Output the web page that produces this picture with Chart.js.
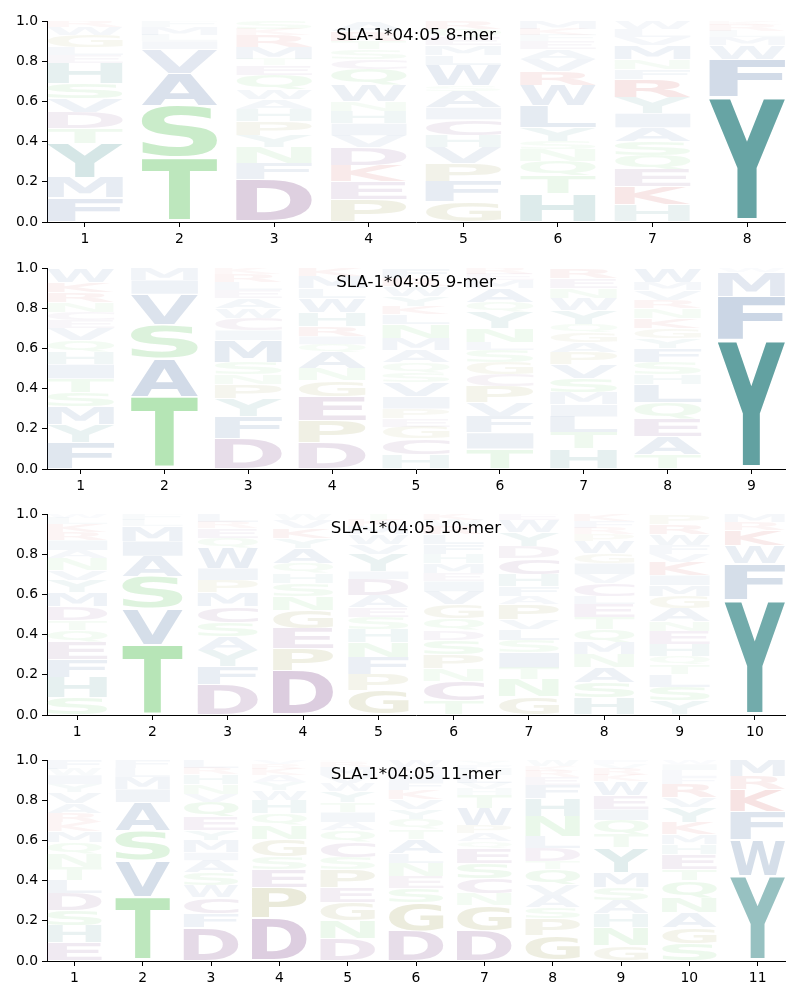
<!DOCTYPE html>
<html lang="en">
<head>
<meta charset="UTF-8">
<title>SLA-1*04:05 binding motifs</title>
<script src="https://cdn.jsdelivr.net/npm/chart.js"></script>
<style>
    body { margin: 0; background: #fff; }
    #wrap { position: relative; width: 800px; height: 1000px; }
    .panel { position: absolute; left: 0; width: 800px; height: 246px; }
</style>
</head>
<body>
<div id="wrap">
    <div class="panel" style="top:0px"><canvas id="c8" width="800" height="246"></canvas></div>
    <div class="panel" style="top:247px"><canvas id="c9" width="800" height="246"></canvas></div>
    <div class="panel" style="top:493px"><canvas id="c10" width="800" height="246"></canvas></div>
    <div class="panel" style="top:739px"><canvas id="c11" width="800" height="246"></canvas></div>
</div>
<script>
// letter frequencies per position, bottom to top
const titles = ['SLA-1*04:05 8-mer', 'SLA-1*04:05 9-mer', 'SLA-1*04:05 10-mer', 'SLA-1*04:05 11-mer'];
const yTicks = [0, 0.2, 0.4, 0.6, 0.8, 1.0];

const mer8 = [
    [['F',.12],['M',.10],['Y',.17],['T',.075],['D',.08],['V',.07],['S',.075],['H',.10],['E',.04],['L',.04],['G',.06],['W',.04],['R',.03]],
    [['T',.32],['S',.26],['A',.16],['V',.12],['I',.04],['L',.03],['M',.04],['F',.03]],
    [['D',.21],['F',.08],['N',.08],['Y',.06],['P',.07],['H',.06],['A',.05],['W',.05],['Q',.07],['E',.05],['T',.03],['M',.06],['R',.06],['K',.03],['S',.04]],
    [['P',.11],['E',.09],['K',.08],['D',.09],['V',.06],['I',.06],['H',.06],['N',.05],['W',.08],['Q',.08],['C',.05],['S',.05],['T',.04],['R',.05],['A',.05]],
    [['G',.10],['F',.10],['P',.09],['V',.08],['H',.06],['C',.08],['I',.06],['A',.08],['S',.03],['W',.10],['L',.05],['M',.05],['E',.04],['Q',.04],['R',.04]],
    [['H',.14],['T',.09],['Q',.07],['N',.06],['S',.04],['Y',.07],['L',.11],['W',.10],['R',.07],['V',.06],['A',.05],['E',.04],['F',.03],['K',.03],['M',.04]],
    [['H',.085],['K',.09],['E',.085],['Q',.07],['S',.07],['A',.07],['I',.07],['Y',.08],['R',.09],['F',.05],['N',.05],['M',.07],['V',.04],['L',.04],['W',.04]],
    [['Y',.62],['F',.19],['W',.07],['M',.04],['L',.03],['R',.03],['K',.02]]
];

const mer9 = [
    [['F',.13],['Y',.09],['M',.09],['S',.07],['T',.07],['I',.07],['H',.06],['Q',.06],['V',.06],['E',.04],['C',.04],['N',.05],['R',.05],['K',.05],['W',.07]],
    [['T',.36],['A',.19],['S',.17],['V',.15],['I',.07],['M',.06]],
    [['D',.15],['F',.11],['Y',.09],['P',.07],['N',.05],['S',.06],['M',.11],['I',.05],['C',.06],['W',.05],['A',.05],['E',.04],['L',.04],['R',.04],['K',.03]],
    [['D',.13],['P',.11],['E',.12],['G',.08],['N',.06],['A',.08],['Q',.04],['I',.04],['R',.05],['H',.07],['W',.07],['L',.05],['M',.06],['K',.04]],
    [['H',.07],['C',.08],['G',.06],['E',.04],['P',.05],['I',.06],['V',.07],['S',.05],['Q',.05],['A',.06],['M',.06],['N',.07],['L',.05],['K',.04],['Y',.05],['W',.05],['R',.04],['F',.05]],
    [['T',.10],['I',.08],['F',.08],['V',.07],['P',.08],['C',.06],['G',.06],['S',.06],['L',.04],['N',.07],['Y',.08],['Q',.05],['A',.07],['M',.04],['E',.03],['R',.03]],
    [['H',.10],['T',.08],['L',.08],['I',.06],['M',.06],['S',.07],['V',.07],['P',.06],['A',.05],['G',.05],['Q',.04],['Y',.07],['W',.06],['N',.05],['E',.05],['R',.05]],
    [['T',.07],['A',.09],['E',.09],['Q',.08],['L',.09],['H',.05],['S',.06],['F',.07],['Y',.05],['G',.05],['K',.05],['N',.05],['R',.04],['V',.05],['M',.04],['W',.07]],
    [['Y',.64],['F',.22],['M',.12],['W',.02]]
];

const mer10 = [
    [['S',.085],['H',.10],['F',.09],['E',.085],['Q',.06],['T',.05],['D',.07],['M',.07],['Y',.06],['V',.05],['N',.06],['A',.04],['I',.05],['R',.04],['K',.04],['L',.03],['W',.02]],
    [['T',.35],['V',.18],['S',.16],['A',.10],['I',.075],['M',.075],['L',.03],['F',.03]],
    [['D',.15],['F',.09],['Y',.08],['A',.07],['S',.07],['C',.08],['M',.07],['P',.06],['I',.06],['W',.10],['Q',.05],['E',.05],['R',.03],['L',.04]],
    [['D',.22],['P',.11],['E',.10],['G',.09],['N',.07],['S',.065],['H',.05],['Q',.05],['A',.075],['Y',.05],['K',.05],['V',.04],['W',.03]],
    [['G',.12],['P',.08],['F',.085],['N',.075],['H',.065],['S',.06],['E',.05],['A',.06],['D',.08],['I',.04],['Y',.085],['V',.05],['W',.05],['M',.04],['K',.03],['T',.03]],
    [['T',.07],['C',.10],['N',.06],['P',.07],['S',.07],['D',.05],['Q',.06],['G',.07],['V',.065],['I',.05],['E',.04],['M',.05],['H',.045],['F',.05],['L',.05],['R',.04],['W',.03],['K',.03]],
    [['G',.09],['N',.085],['T',.06],['I',.075],['S',.06],['L',.055],['V',.05],['P',.075],['A',.04],['F',.05],['H',.06],['C',.08],['D',.06],['Y',.07],['W',.06],['E',.03]],
    [['H',.085],['S',.075],['A',.075],['N',.065],['M',.06],['Q',.065],['T',.06],['E',.065],['L',.04],['C',.065],['V',.045],['I',.055],['G',.05],['W',.06],['P',.035],['R',.03],['F',.035],['K',.035]],
    [['Y',.07],['S',.07],['L',.06],['T',.05],['Q',.04],['H',.06],['E',.065],['N',.05],['A',.065],['G',.06],['M',.055],['I',.05],['K',.065],['V',.04],['F',.045],['W',.055],['R',.05],['P',.045]],
    [['Y',.575],['F',.18],['W',.09],['K',.075],['R',.04],['M',.04]]
];

const mer11 = [
    [['E',.09],['H',.085],['S',.075],['D',.085],['L',.065],['T',.065],['N',.065],['Q',.06],['M',.055],['K',.045],['R',.045],['A',.05],['V',.055],['Y',.04],['I',.045],['W',.03],['F',.045]],
    [['T',.32],['V',.18],['S',.15],['A',.14],['I',.065],['M',.06],['L',.045],['F',.04]],
    [['D',.165],['F',.07],['C',.08],['W',.06],['S',.065],['A',.06],['I',.04],['M',.06],['Y',.05],['E',.065],['Q',.075],['V',.04],['N',.05],['H',.05],['R',.03],['L',.04]],
    [['D',.215],['P',.15],['E',.09],['S',.065],['G',.085],['N',.07],['Q',.06],['H',.065],['W',.05],['Y',.04],['A',.035],['K',.03],['R',.025],['V',.02]],
    [['D',.11],['N',.09],['G',.09],['E',.075],['P',.09],['S',.06],['C',.075],['Q',.06],['A',.04],['I',.05],['T',.05],['Y',.055],['W',.04],['V',.04],['M',.04],['R',.025],['K',.01]],
    [['D',.15],['G',.14],['S',.07],['E',.06],['N',.065],['L',.05],['A',.07],['T',.05],['Q',.05],['Y',.05],['V',.05],['K',.045],['F',.04],['I',.04],['M',.035],['W',.035]],
    [['D',.15],['G',.125],['N',.06],['C',.075],['S',.075],['E',.075],['Q',.035],['A',.04],['P',.04],['W',.085],['T',.065],['H',.03],['V',.03],['L',.04],['M',.03],['F',.02],['Y',.02],['R',.01]],
    [['G',.125],['P',.085],['S',.055],['A',.06],['V',.055],['Q',.075],['T',.04],['D',.065],['L',.06],['N',.10],['H',.09],['F',.065],['E',.04],['R',.03],['K',.025],['W',.03]],
    [['G',.075],['N',.09],['H',.07],['A',.065],['S',.065],['M',.075],['Y',.125],['T',.065],['Q',.07],['I',.055],['E',.07],['W',.07],['K',.03],['R',.03],['V',.025],['F',.02]],
    [['S',.085],['G',.08],['A',.075],['N',.075],['Q',.085],['T',.055],['E',.075],['H',.05],['M',.05],['K',.06],['Y',.075],['V',.05],['R',.065],['F',.035],['L',.035],['I',.03],['W',.02]],
    [['Y',.425],['W',.18],['F',.14],['K',.11],['R',.065],['M',.08]]
];

// colour groups for residues
const groups = [
    ['STNQ', [100, 200, 100]],
    ['AVLIMFW', [78, 115, 165]],
    ['DEC', [135, 85, 145]],
    ['PG', [150, 150, 70]],
    ['KR', [200, 60, 60]],
    ['HY', [70, 145, 145]]
];

function colorFor(aa, h) {
    const g = groups.find(g => g[0].includes(aa));
    const c = g ? g[1] : [120, 120, 120];
    const a = Math.min(1, h * 1.33);
    return 'rgba(' + c[0] + ',' + c[1] + ',' + c[2] + ',' + a.toFixed(3) + ')';
}

function drawGlyph(ctx, ch, x0, y0, w, h, color) {
    const pad = h * 0.025;
    y0 += pad; h -= 2 * pad;
    if (h < 0.5 || w < 0.5) return;
    ctx.save();
    ctx.font = 'bold 200px "DejaVu Sans"';
    ctx.textAlign = 'left';
    ctx.textBaseline = 'alphabetic';
    const m = ctx.measureText(ch);
    const gw = m.actualBoundingBoxLeft + m.actualBoundingBoxRight;
    const gh = m.actualBoundingBoxAscent + m.actualBoundingBoxDescent;
    ctx.translate(x0, y0);
    ctx.scale(w / gw, h / gh);
    ctx.fillStyle = color;
    ctx.fillText(ch, m.actualBoundingBoxLeft, m.actualBoundingBoxAscent);
    ctx.restore();
}

const logoLetters = {
    id: 'logoLetters',
    afterDatasetsDraw(chart, args, opts) {
        const ctx = chart.ctx, area = chart.chartArea;
        ctx.save();
        ctx.beginPath();
        ctx.rect(area.left, area.top, area.right - area.left, area.bottom - area.top);
        ctx.clip();
        chart.data.datasets.forEach((ds, di) => {
            chart.getDatasetMeta(di).data.forEach((bar, i) => {
                const aa = ds.letters[i];
                if (!aa) return;
                const p = bar.getProps(['x', 'y', 'base', 'width'], true);
                drawGlyph(ctx, aa, p.x - p.width / 2, p.y, p.width, p.base - p.y, colorFor(aa, ds.data[i].y));
            });
        });
        ctx.restore();
        // title sits inside the plot
        ctx.save();
        ctx.font = '16.7px "DejaVu Sans"';
        ctx.fillStyle = '#000';
        ctx.textAlign = 'center';
        ctx.textBaseline = 'middle';
        ctx.fillText(opts.text, (area.left + area.right) / 2, area.top + 15);
        ctx.restore();
    }
};

function buildDatasets(cols) {
    const depth = Math.max(...cols.map(c => c.length));
    const sets = [];
    for (let k = 0; k < depth; k++) {
        sets.push({
            data: cols.map((c, i) => ({x: i + 1, y: c[k] ? c[k][1] : 0})),
            letters: cols.map(c => c[k] ? c[k][0] : null),
            backgroundColor: 'rgba(0,0,0,0)',
            borderWidth: 0,
            categoryPercentage: 1.0,
            barPercentage: 0.8
        });
    }
    return sets;
}

function makeLogo(id, cols, title) {
    const n = cols.length;
    const positions = cols.map((c, i) => i + 1);
    const tickFont = {family: '"DejaVu Sans"', size: 13.9};
    new Chart(document.getElementById(id), {
        type: 'bar',
        data: {datasets: buildDatasets(cols)},
        options: {
            responsive: false,
            animation: false,
            layout: {padding: {top: 21, right: 15, left: 0, bottom: 0}},
            plugins: {
                legend: {display: false},
                tooltip: {enabled: false},
                logoLetters: {text: title}
            },
            scales: {
                x: {
                    type: 'linear',
                    stacked: true,
                    offset: false,
                    min: 0.6,
                    max: n + 0.4,
                    afterBuildTicks: s => { s.ticks = positions.map(v => ({value: v})); },
                    afterFit: s => { s.height = 24; },
                    ticks: {color: '#000', font: tickFont, padding: 4, callback: v => String(v), maxRotation: 0},
                    grid: {offset: false, drawOnChartArea: false, drawTicks: true, tickLength: 5, tickColor: '#000'},
                    border: {display: true, color: '#000', width: 1}
                },
                y: {
                    stacked: true,
                    min: 0,
                    max: 1,
                    afterBuildTicks: s => { s.ticks = yTicks.map(v => ({value: v})); },
                    afterFit: s => { s.width = 47; },
                    ticks: {color: '#000', font: tickFont, padding: 4, callback: v => v.toFixed(1)},
                    grid: {drawOnChartArea: false, drawTicks: true, tickLength: 5, tickColor: '#000'},
                    border: {display: true, color: '#000', width: 1}
                }
            }
        },
        plugins: [logoLetters]
    });
}

makeLogo('c8', mer8, titles[0]);
makeLogo('c9', mer9, titles[1]);
makeLogo('c10', mer10, titles[2]);
makeLogo('c11', mer11, titles[3]);
</script>
</body>
</html>
